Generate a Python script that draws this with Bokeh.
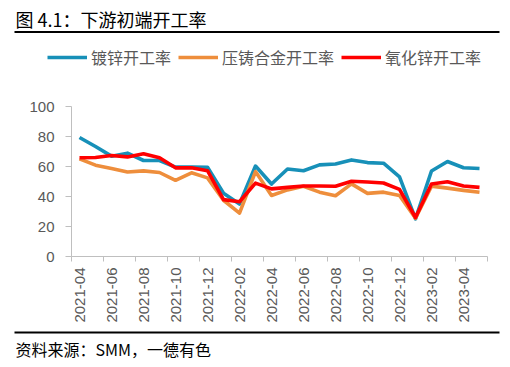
import math
from bokeh.plotting import figure
from bokeh.layouts import column
from bokeh.models import FixedTicker, Legend, LegendItem, Range1d
from bokeh.core.properties import value
from bokeh.embed import file_html
from bokeh.resources import INLINE

# ---- data ----
months = ["2021-04", "2021-05", "2021-06", "2021-07", "2021-08", "2021-09", "2021-10",
          "2021-11", "2021-12", "2022-01", "2022-02", "2022-03", "2022-04", "2022-05",
          "2022-06", "2022-07", "2022-08", "2022-09", "2022-10", "2022-11", "2022-12",
          "2023-01", "2023-02", "2023-03", "2023-04", "2023-05"]
galvanizing = [79.3, 73.3, 66.9, 68.9, 64.0, 64.0, 59.6, 59.6, 59.5, 42.2, 35.0, 60.3, 48.3,
               58.3, 57.2, 61.1, 61.7, 64.4, 62.6, 62.2, 53.1, 25.1, 57.0, 63.3, 59.2, 58.7]
die_casting = [65.1, 60.9, 58.7, 56.3, 57.1, 56.0, 50.8, 55.8, 52.4, 37.5, 28.9, 56.6, 40.7,
               44.4, 46.8, 42.9, 40.5, 48.4, 42.1, 42.9, 40.7, 25.5, 46.9, 45.6, 44.1, 42.8]
zinc_oxide = [65.8, 66.0, 67.3, 66.4, 68.5, 65.8, 59.1, 59.1, 57.2, 37.9, 36.5, 48.9, 45.1,
              46.1, 47.0, 47.0, 46.8, 50.2, 49.7, 49.0, 44.7, 26.0, 48.3, 49.8, 47.0, 46.1]
series_names = ["镀锌开工率", "压铸合金开工率", "氧化锌开工率"]
y_ticks = [0, 20, 40, 60, 80, 100]
title_text = "图 4.1：下游初端开工率"
source_text = "资料来源：SMM，一德有色"

colors = ["#1790B8", "#EE8E3C", "#FF0000"]
GRAY = "#595959"
AXIS = "#bfbfbf"
CJK = "Noto Sans CJK SC"
W = 510


def blank(height):
    f = figure(width=W, height=height, output_backend="svg", toolbar_location=None,
               x_range=Range1d(0, W), y_range=Range1d(height, 0),
               x_axis_type=None, y_axis_type=None, frame_align=False,
               min_border_left=0, min_border_right=0, min_border_top=0, min_border_bottom=0)
    f.outline_line_color = None
    f.grid.visible = False
    return f


# ---- header: title, rule, legend ----
HEAD_H = 80
head = blank(HEAD_H)
head.text(x=[15], y=[18], text=[title_text], text_baseline="middle", text_align="left",
          text_font=value(CJK), text_font_size="18px", text_color="black")
head.segment(x0=[14], y0=[31.5], x1=[499], y1=[31.5], line_color="black", line_width=2)

# ---- main chart ----
xs = list(range(len(months)))
p = figure(width=W, height=250, output_backend="svg", toolbar_location=None,
           x_range=Range1d(-0.5, len(months) - 0.5), y_range=Range1d(0, 100),
           frame_align=False,
           min_border_left=71, min_border_right=23, min_border_top=26, min_border_bottom=74)
p.outline_line_color = None
p.grid.visible = False

for vals, c in zip([galvanizing, die_casting, zinc_oxide], colors):
    p.line(xs, vals, line_color=c, line_width=3.6, line_join="round")

# legend (in header), keyed to the same series styles
nan = float("nan")
keys = [head.line([nan], [nan], line_color=c, line_width=3.6) for c in colors]
legend = Legend(items=[LegendItem(label=n, renderers=[r]) for n, r in zip(series_names, keys)],
                orientation="horizontal", location=(47, 11),
                padding=0, margin=0, spacing=7, label_standoff=4,
                glyph_width=40, glyph_height=20, label_height=20,
                border_line_color=None, background_fill_alpha=0,
                label_text_font=CJK, label_text_font_size="16px", label_text_color=GRAY)
head.add_layout(legend)

# x axis: labels every second month, tick marks at category boundaries
label_ticks = xs[::2]
bound_ticks = [i - 0.5 for i in range(0, len(months) + 1, 2)]
xa = p.xaxis[0]
xa.ticker = FixedTicker(ticks=label_ticks, minor_ticks=bound_ticks)
xa.major_label_overrides = {i: months[i] for i in label_ticks}
xa.major_label_orientation = math.pi / 2
xa.major_tick_out = 0
xa.major_tick_in = 0
xa.minor_tick_out = 5
xa.minor_tick_in = 0
xa.minor_tick_line_color = AXIS
xa.axis_line_color = AXIS
xa.major_label_standoff = 6
xa.major_label_text_font = "Liberation Sans"
xa.major_label_text_font_size = "15px"
xa.major_label_text_color = GRAY

ya = p.yaxis[0]
ya.ticker = FixedTicker(ticks=y_ticks)
ya.major_tick_out = 6
ya.major_tick_in = 0
ya.minor_tick_out = 0
ya.minor_tick_in = 0
ya.major_tick_line_color = AXIS
ya.axis_line_color = AXIS
ya.major_label_standoff = 11
ya.major_label_text_font = "Liberation Sans"
ya.major_label_text_font_size = "15px"
ya.major_label_text_color = GRAY

# ---- footer: rule and source note ----
foot = blank(37)
foot.segment(x0=[14], y0=[2], x1=[499], y1=[2], line_color="black", line_width=2)
foot.text(x=[15], y=[18], text=[source_text], text_baseline="middle", text_align="left",
          text_font=value(CJK), text_font_size="16px", text_color="black")

layout = column(head, p, foot, spacing=0)
open("out.html", "w").write(file_html(layout, INLINE))
